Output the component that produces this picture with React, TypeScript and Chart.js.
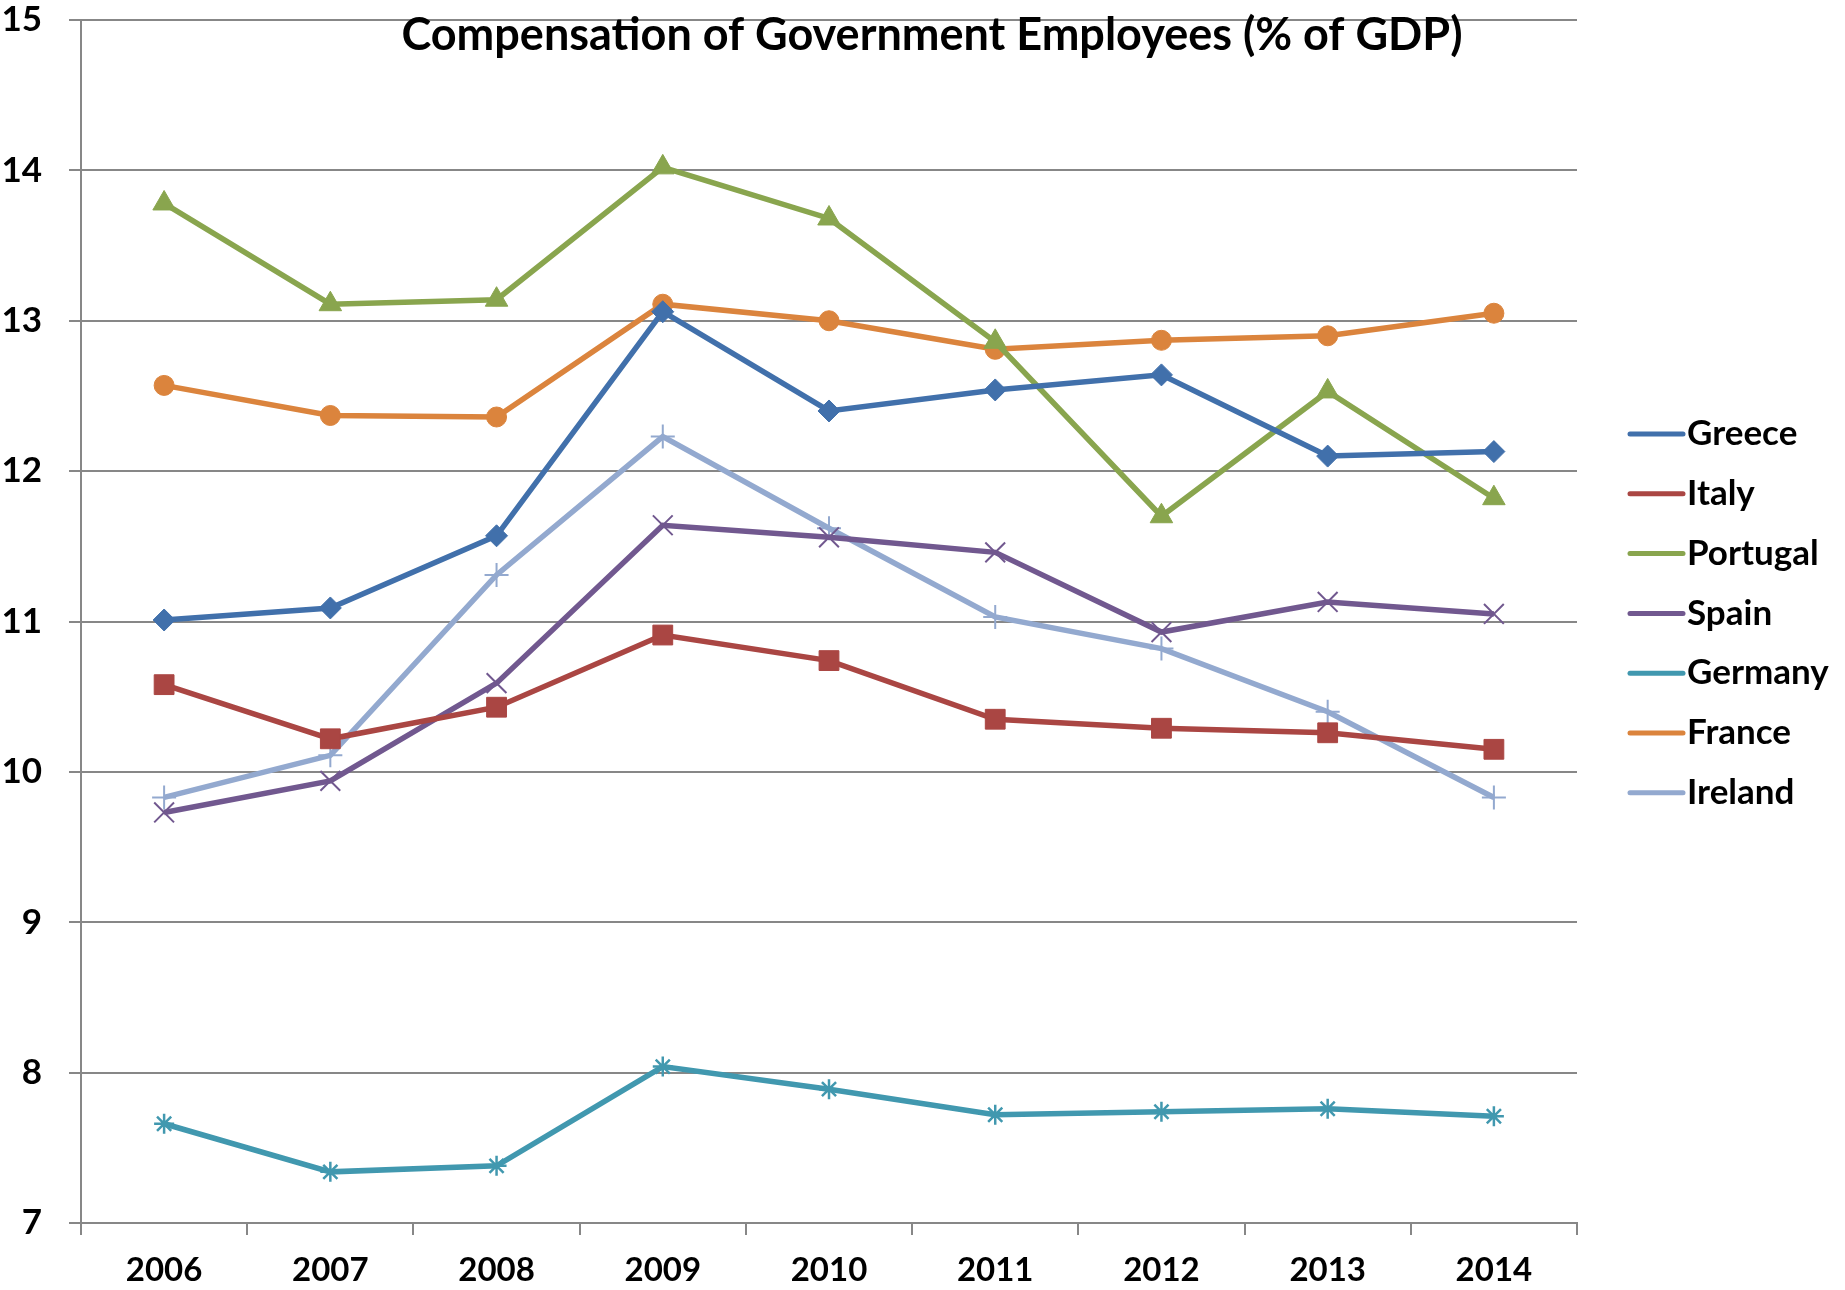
import React, { useEffect, useRef } from "react";
import { Chart, registerables } from "chart.js";

Chart.register(...registerables);

const years = ["2006", "2007", "2008", "2009", "2010", "2011", "2012", "2013", "2014"];
const greece = [11.01, 11.09, 11.57, 13.06, 12.4, 12.54, 12.64, 12.1, 12.13];
const italy = [10.58, 10.22, 10.43, 10.91, 10.74, 10.35, 10.29, 10.26, 10.15];
const portugal = [13.78, 13.11, 13.14, 14.02, 13.68, 12.86, 11.7, 12.53, 11.82];
const spain = [9.73, 9.94, 10.59, 11.64, 11.56, 11.46, 10.93, 11.13, 11.05];
const germany = [7.66, 7.34, 7.38, 8.04, 7.89, 7.72, 7.74, 7.76, 7.71];
const france = [12.57, 12.37, 12.36, 13.11, 13.0, 12.81, 12.87, 12.9, 13.05];
const ireland = [9.83, 10.11, 11.31, 12.23, 11.62, 11.03, 10.82, 10.4, 9.83];
const titleText = "Compensation of Government Employees (% of GDP)";

const FONT = "Lato, 'Open Sans', sans-serif";

const seriesDefs = [
  { label: "Greece", data: greece, color: "#4170AB", style: "rectRot", r: 11, bw: 1 },
  { label: "Italy", data: italy, color: "#AA4643", style: "rect", r: 14, bw: 1 },
  { label: "Portugal", data: portugal, color: "#89A54E", style: "triangle", r: 13, bw: 1 },
  { label: "Spain", data: spain, color: "#71588F", style: "crossRot", r: 14, bw: 2 },
  { label: "Germany", data: germany, color: "#4198AF", style: "star", r: 10, bw: 2.5 },
  { label: "France", data: france, color: "#DB843D", style: "circle", r: 10, bw: 1 },
  { label: "Ireland", data: ireland, color: "#93A9CF", style: "cross", r: 12, bw: 2 },
];

const overlayPlugin = {
  id: "overlay",
  afterDraw(chart: any) {
    const ctx = chart.ctx;
    const area = chart.chartArea;
    ctx.save();
    // title
    ctx.fillStyle = "#000";
    ctx.font = `bold 45px ${FONT}`;
    ctx.textAlign = "center";
    ctx.textBaseline = "middle";
    ctx.fillText(titleText, 932, 35);
    // legend
    const x0 = area.right + 53;
    const y0 = 434;
    const step = 59.8;
    chart.data.datasets.forEach((ds: any, i: number) => {
      const y = y0 + i * step;
      ctx.strokeStyle = ds.borderColor;
      ctx.lineWidth = 5;
      ctx.lineCap = "round";
      ctx.beginPath();
      ctx.moveTo(x0, y);
      ctx.lineTo(x0 + 53, y);
      ctx.stroke();
      ctx.lineCap = "butt";
      ctx.fillStyle = ds.pointBackgroundColor;
      ctx.strokeStyle = ds.pointBorderColor;
      ctx.lineWidth = ds.pointBorderWidth;
      const h = (Chart as any).helpers;
      if (h && h.drawPoint) {
        h.drawPoint(ctx, { pointStyle: ds.pointStyle, radius: ds.pointRadius, borderWidth: ds.pointBorderWidth }, x0 + 26.5, y);
      }
      ctx.fillStyle = "#000";
      ctx.font = `bold 35px ${FONT}`;
      ctx.textAlign = "left";
      ctx.textBaseline = "middle";
      ctx.fillText(ds.label, x0 + 57, y);
    });
    ctx.restore();
  },
};

export default function App() {
  const ref = useRef<HTMLCanvasElement | null>(null);
  useEffect(() => {
    if (!ref.current) return;
    const chart = new Chart(ref.current, {
      type: "line",
      data: {
        labels: years,
        datasets: seriesDefs.map((s) => ({
          label: s.label,
          data: s.data,
          borderColor: s.color,
          backgroundColor: s.color,
          borderWidth: 5.5,
          pointStyle: s.style as any,
          pointRadius: s.r,
          pointBackgroundColor: s.color,
          pointBorderColor: s.color,
          pointBorderWidth: s.bw,
          tension: 0,
        })),
      },
      options: {
        animation: false,
        responsive: true,
        maintainAspectRatio: false,
        layout: { autoPadding: false, padding: { left: 0, top: 20, right: 268, bottom: 0 } } as any,
        plugins: { legend: { display: false }, title: { display: false }, tooltip: { enabled: false } },
        scales: {
          x: {
            offset: true,
            grid: { offset: true, drawOnChartArea: false, drawTicks: true, tickLength: 12, color: "#878787", lineWidth: 2 },
            border: { color: "#878787", width: 2 },
            ticks: { color: "#000", font: { family: FONT, size: 33, weight: "bold" }, padding: 16, maxRotation: 0 },
            afterFit: (s: any) => { s.height = 67; s.paddingLeft = 0; s.paddingRight = 0; },
          },
          y: {
            min: 7,
            max: 15,
            ticks: { stepSize: 1, color: "#000", font: { family: FONT, size: 35, weight: "bold" }, padding: 27 },
            grid: { color: "#878787", lineWidth: 2, tickLength: 12 },
            border: { color: "#878787", width: 2 },
            afterFit: (s: any) => { s.width = 81; s.paddingTop = 0; s.paddingBottom = 0; },
          },
        },
      },
      plugins: [overlayPlugin],
    });
    return () => chart.destroy();
  }, []);
  return (
    <div style={{ position: "fixed", left: 0, top: 0, width: 1845, height: 1290, background: "#fff" }}>
      <canvas ref={ref} />
    </div>
  );
}
